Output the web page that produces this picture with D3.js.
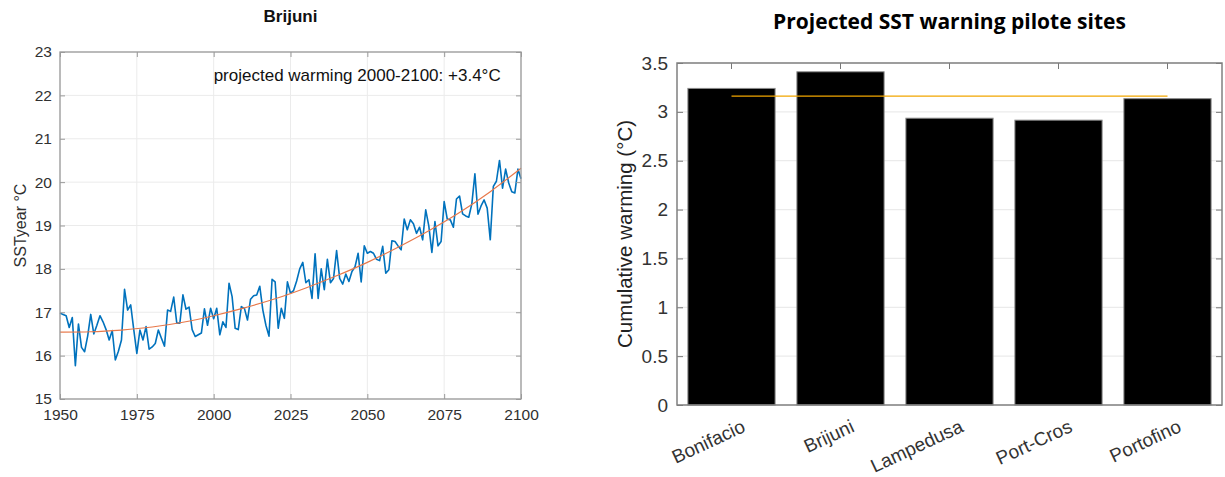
<!DOCTYPE html>
<html>
<head>
<meta charset="utf-8">
<script src="https://cdn.jsdelivr.net/npm/d3@7"></script>
<style>
  body { margin: 0; background: #fff; }
  svg { display: block; font-family: "Liberation Sans", Arial, Helvetica, sans-serif; }
</style>
</head>
<body>
<svg id="fig" width="1225" height="477"></svg>
<script>
// ---- Brijuni annual mean SST (°C), 1950–2100 ----
const firstYear = 1950;
const sstYear = [
  16.98, 16.95, 16.92, 16.65, 16.88, 15.77, 16.73, 16.19, 16.09, 16.45,
  16.95, 16.50, 16.70, 16.92, 16.78, 16.60, 16.36, 16.58, 15.90, 16.10,
  16.36, 17.53, 17.05, 17.17, 16.60, 16.05, 16.59, 16.36, 16.67, 16.15,
  16.20, 16.28, 16.59, 16.40, 16.22, 17.05, 17.02, 17.35, 16.75, 16.75,
  17.40, 17.07, 17.12, 16.60, 16.44, 16.48, 16.52, 17.08, 16.70, 17.09,
  16.85, 17.09, 16.48, 16.78, 16.65, 17.67, 17.36, 16.63, 16.60, 17.13,
  17.09, 16.82, 17.30, 17.38, 17.40, 17.60, 17.05, 16.70, 16.45, 17.76,
  17.70, 16.63, 17.09, 16.86, 17.70, 17.44, 17.50, 17.72, 18.00, 18.15,
  17.68, 17.75, 17.32, 18.35, 17.32, 18.00, 17.52, 18.22, 17.68, 17.78,
  18.42, 17.78, 17.65, 17.88, 17.71, 17.94, 18.05, 18.36, 17.70, 18.53,
  18.36, 18.40, 18.36, 18.22, 18.19, 18.52, 17.90, 17.98, 18.65, 18.63,
  18.53, 18.44, 19.15, 18.90, 19.13, 19.04, 18.82, 18.96, 18.67, 19.36,
  18.99, 18.38, 19.09, 18.53, 18.63, 19.55, 19.15, 19.13, 18.96, 19.61,
  19.68, 19.27, 19.22, 19.19, 19.50, 20.19, 19.26, 19.45, 19.59, 19.40,
  18.67, 19.90, 20.02, 20.50, 19.86, 20.30, 19.98, 19.78, 19.75, 20.30,
  20.08
];
const years = sstYear.map((_, i) => firstYear + i);

// smoothed trend, one value per decade
const trendYears  = [1950, 1960, 1970, 1980, 1990, 2000, 2010, 2020, 2030, 2040, 2050, 2060, 2070, 2080, 2090, 2100];
const trendValues = [16.54, 16.55, 16.59, 16.66, 16.77, 16.92, 17.10, 17.31, 17.56, 17.84, 18.15, 18.50, 18.88, 19.30, 19.78, 20.32];

const yearTicks = [1950, 1975, 2000, 2025, 2050, 2075, 2100];
const sstTicks  = [15, 16, 17, 18, 19, 20, 21, 22, 23];

// ---- cumulative warming per pilot site (°C) ----
const sites = ["Bonifacio", "Brijuni", "Lampedusa", "Port-Cros", "Portofino"];
const cumulativeWarming = [3.24, 3.41, 2.935, 2.915, 3.135];
const referenceWarming = 3.16;
const warmingTicks = [0, 0.5, 1, 1.5, 2, 2.5, 3, 3.5];

const svg = d3.select("#fig");
const axisColor = "#9a9a9a";
const gridColor = "#ebebeb";
const labelColor = "#303030";

// ================= left panel: time series =================
const L = { left: 60, right: 521, top: 52, bottom: 399 };
const x1 = d3.scaleLinear().domain([1950, 2100]).range([L.left, L.right]);
const y1 = d3.scaleLinear().domain([15, 23]).range([L.bottom, L.top]);

const left = svg.append("g");

// grid
left.append("g").selectAll("line").data(yearTicks).join("line")
  .attr("x1", d => x1(d)).attr("x2", d => x1(d))
  .attr("y1", L.top).attr("y2", L.bottom)
  .attr("stroke", gridColor).attr("stroke-width", 1);
left.append("g").selectAll("line").data(sstTicks).join("line")
  .attr("x1", L.left).attr("x2", L.right)
  .attr("y1", d => y1(d)).attr("y2", d => y1(d))
  .attr("stroke", gridColor).attr("stroke-width", 1);

// series
const sstLine = d3.line().x((d, i) => x1(years[i])).y(d => y1(d));
left.append("path").datum(sstYear)
  .attr("d", sstLine)
  .attr("fill", "none").attr("stroke", "#0072BD").attr("stroke-width", 1.6)
  .attr("stroke-linejoin", "round");

const trendLine = d3.line().x((d, i) => x1(trendYears[i])).y(d => y1(d)).curve(d3.curveMonotoneX);
left.append("path").datum(trendValues)
  .attr("d", trendLine)
  .attr("fill", "none").attr("stroke", "#E8784A").attr("stroke-width", 1.2);

// axes (ticks pointing inward)
function styleAxis(g) {
  g.select(".domain").remove();
  g.selectAll(".tick line").attr("stroke", axisColor);
  g.selectAll(".tick text").attr("fill", labelColor).style("font-size", "15.5px")
    .style("font-family", "'Liberation Sans', Arial, sans-serif");
}
left.append("g").attr("transform", `translate(0,${L.bottom})`)
  .call(d3.axisBottom(x1).tickValues(yearTicks).tickFormat(d3.format("d")).tickSize(-5).tickSizeOuter(0).tickPadding(10))
  .call(styleAxis);
left.append("g").attr("transform", `translate(0,${L.top})`)
  .call(d3.axisTop(x1).tickValues(yearTicks).tickFormat("").tickSize(-5).tickSizeOuter(0))
  .call(styleAxis);
left.append("g").attr("transform", `translate(${L.left},0)`)
  .call(d3.axisLeft(y1).tickValues(sstTicks).tickFormat(d3.format("d")).tickSize(-5).tickSizeOuter(0).tickPadding(8))
  .call(styleAxis);
left.append("g").attr("transform", `translate(${L.right},0)`)
  .call(d3.axisRight(y1).tickValues(sstTicks).tickFormat("").tickSize(-5).tickSizeOuter(0))
  .call(styleAxis);

left.append("rect")
  .attr("x", L.left).attr("y", L.top)
  .attr("width", L.right - L.left).attr("height", L.bottom - L.top)
  .attr("fill", "none").attr("stroke", axisColor).attr("stroke-width", 1.3);

// titles and labels
left.append("text")
  .attr("x", (L.left + L.right) / 2).attr("y", 22)
  .attr("text-anchor", "middle").attr("font-weight", "bold")
  .style("font-size", "17px").attr("fill", "#111")
  .text("Brijuni");

left.append("text")
  .attr("transform", `translate(26,${(L.top + L.bottom) / 2}) rotate(-90)`)
  .attr("text-anchor", "middle").style("font-size", "16px").attr("fill", labelColor)
  .text("SSTyear °C");

const trendAt = yr => trendValues[trendYears.indexOf(yr)];
const projected = trendAt(2100) - trendAt(2000);
left.append("text")
  .attr("x", x1(2000)).attr("y", 81)
  .style("font-size", "17px").attr("fill", "#111")
  .text(`projected warming 2000-2100: +${projected.toFixed(1)}°C`);

// ================= right panel: bar chart =================
const R = { left: 677, right: 1222, top: 63, bottom: 405 };
const xb = d3.scaleBand().domain(sites).range([R.left, R.right]).paddingInner(0.2).paddingOuter(0.1);
const yb = d3.scaleLinear().domain([0, 3.5]).range([R.bottom, R.top]);

const right = svg.append("g");

right.append("g").selectAll("line").data(warmingTicks).join("line")
  .attr("x1", R.left).attr("x2", R.right)
  .attr("y1", d => yb(d)).attr("y2", d => yb(d))
  .attr("stroke", gridColor).attr("stroke-width", 1.2);

right.append("g").selectAll("rect").data(sites).join("rect")
  .attr("x", d => xb(d))
  .attr("y", (d, i) => yb(cumulativeWarming[i]))
  .attr("width", xb.bandwidth())
  .attr("height", (d, i) => yb(0) - yb(cumulativeWarming[i]))
  .attr("fill", "#000").attr("stroke", "#8a8a8a").attr("stroke-width", 1);

const centre = s => xb(s) + xb.bandwidth() / 2;
right.append("line")
  .attr("x1", centre(sites[0])).attr("x2", centre(sites[sites.length - 1]))
  .attr("y1", yb(referenceWarming)).attr("y2", yb(referenceWarming))
  .attr("stroke", "#F2A600").attr("stroke-width", 1.3);

function styleAxisR(g) {
  g.select(".domain").remove();
  g.selectAll(".tick line").attr("stroke", "#777");
  g.selectAll(".tick text").attr("fill", "#333").style("font-size", "19px")
    .style("font-family", "'Liberation Sans', Arial, sans-serif");
}
right.append("g").attr("transform", `translate(${R.left},0)`)
  .call(d3.axisLeft(yb).tickValues(warmingTicks).tickFormat(d3.format("~g")).tickSize(-6).tickSizeOuter(0).tickPadding(9))
  .call(styleAxisR);
right.append("g").attr("transform", `translate(${R.right},0)`)
  .call(d3.axisRight(yb).tickValues(warmingTicks).tickFormat("").tickSize(-6).tickSizeOuter(0))
  .call(styleAxisR);
right.append("g").attr("transform", `translate(0,${R.top})`)
  .call(d3.axisTop(xb).tickFormat("").tickSize(-6).tickSizeOuter(0))
  .call(styleAxisR);

// category labels, slanted
right.append("g").selectAll("text").data(sites).join("text")
  .attr("transform", d => `translate(${centre(d) + 9},${R.bottom + 13}) rotate(-25)`)
  .attr("text-anchor", "end").attr("dy", "0.75em")
  .style("font-size", "19px").attr("fill", "#333")
  .text(d => d);

right.append("rect")
  .attr("x", R.left).attr("y", R.top)
  .attr("width", R.right - R.left).attr("height", R.bottom - R.top)
  .attr("fill", "none").attr("stroke", "#808080").attr("stroke-width", 1.5);

right.append("text")
  .attr("x", (R.left + R.right) / 2).attr("y", 29)
  .attr("text-anchor", "middle").attr("font-weight", "bold")
  .style("font-family", "'Open Sans', 'Noto Sans', sans-serif")
  .style("font-size", "21px").attr("fill", "#000")
  .text("Projected SST warning pilote sites");

right.append("text")
  .attr("transform", `translate(632,${(R.top + R.bottom) / 2}) rotate(-90)`)
  .attr("text-anchor", "middle").style("font-size", "20.5px").attr("fill", "#222")
  .text("Cumulative warming (°C)");
</script>
</body>
</html>
